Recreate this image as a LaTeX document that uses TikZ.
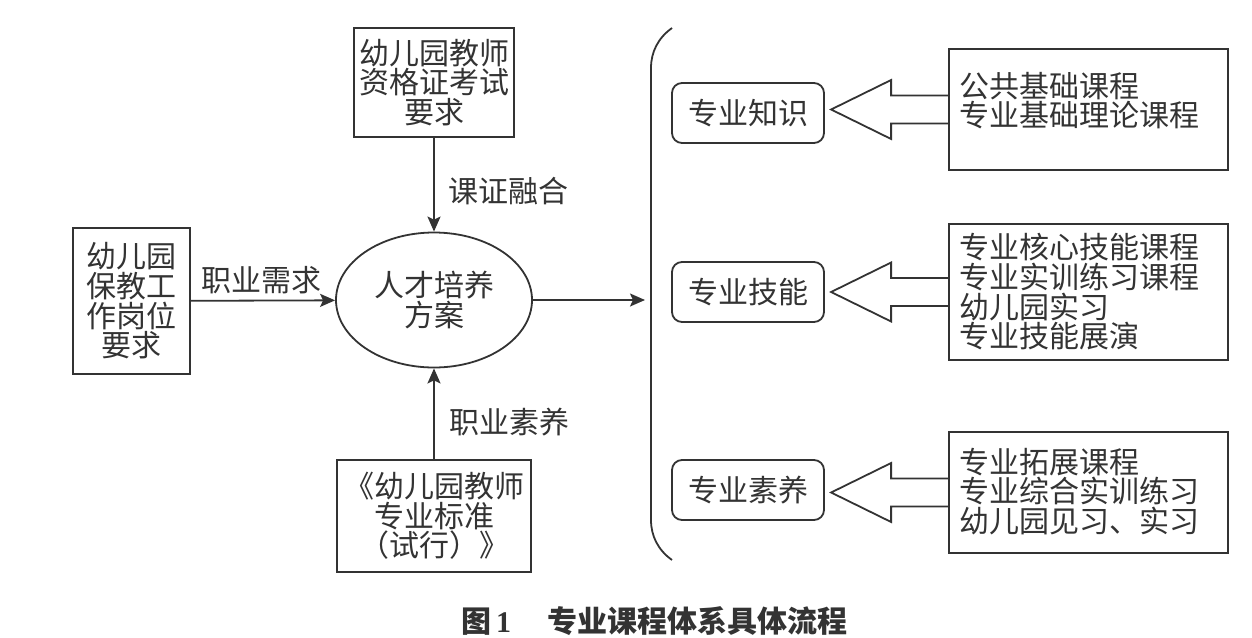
\documentclass[tikz,border=0pt]{standalone}
\usepackage{fontspec}
\setmainfont{Noto Sans CJK SC}
\newfontfamily\numfont{Liberation Serif}
\usepackage{tikz}
\usetikzlibrary{arrows.meta,shapes.geometric}
\definecolor{inkgray}{HTML}{333333}

\begin{document}
\begin{tikzpicture}
	[x=1pt,y=-1pt,line width=1.8pt,color=inkgray,
	every node/.style={font=\fontsize{30}{29.7}\selectfont,inner sep=0pt,align=center},
	box/.style={draw,rectangle},
	plan/.style={draw,ellipse,minimum width=196pt,minimum height=135pt},
	topic/.style={draw,rounded corners=10pt,minimum width=152pt,minimum height=60pt},
	arr/.style={-{Stealth[length=15pt,width=13pt,inset=3pt]}}]
	\useasboundingbox (0,0) rectangle (1252,637);
	
	\node[box,minimum width=160pt,minimum height=109pt] (cert) at (434,82.5) {幼儿园教师\\资格证考试\\要求};
	\node[box,minimum width=117pt,minimum height=146pt] (job) at (131.5,301) {幼儿园\\保教工\\作岗位\\要求};
	\node[box,minimum width=194pt,minimum height=112pt] (std) at (434,516) {《幼儿园教师\\专业标准\\（试行）》};
	\node[plan] (plan) at (434,300) {人才培养\\方案};
	
	\node (l1) at (508,191) {课证融合};
	\node (l2) at (261,280) {职业需求};
	\node (l3) at (509,422) {职业素养};
	
	\coordinate (brc) at (645,300);
	\draw (672,28) .. controls (658,38) and (651,52) .. (651,68) -- (651,520)
		.. controls (651,536) and (658,550) .. (672,560);
	
	\node[topic] (s1) at (748,113) {专业知识};
	\node[topic] (s2) at (748,292) {专业技能};
	\node[topic] (s3) at (748,490) {专业素养};
	
	\node[box,minimum width=279pt,minimum height=121pt] (k1) at (1088.5,109.5) {};
	\node[box,minimum width=279pt,minimum height=136pt] (k2) at (1088.5,292) {};
	\node[box,minimum width=279pt,minimum height=121pt] (k3) at (1088.5,492.5) {};
	\node[anchor=west,align=left] (t1) at ([xshift=10pt,yshift=9pt]k1.west) {公共基础课程\\专业基础理论课程};
	\node[anchor=west,align=left] (t2) at ([xshift=10pt]k2.west) {专业核心技能课程\\专业实训练习课程\\幼儿园实习\\专业技能展演};
	\node[anchor=west,align=left] (t3) at ([xshift=10pt,yshift=1pt]k3.west) {专业拓展课程\\专业综合实训练习\\幼儿园见习、实习};
	
	\node[font=\fontsize{30}{30}\selectfont\bfseries] (cap) at (654,621) {图\,{\numfont 1}\hspace{36pt}专业课程体系具体流程};
	
	\foreach \from/\to in {cert/plan,job/plan,std/plan,plan/brc}
	\draw[arr] (\from) -- (\to);
	\foreach \k in {k1,k2,k3}
	\draw[line join=miter] (\k.west) ++(0,14) -- ++(-57,0) -- ++(0,15.5) -- ++(-60,-29.5) -- ++(60,-29.5) -- ++(0,15.5) -- ++(57,0);
\end{tikzpicture}
\end{document}
